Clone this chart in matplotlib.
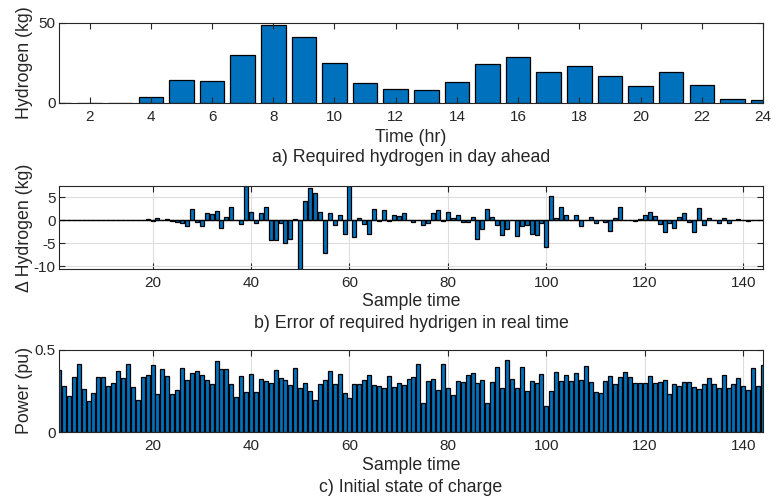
import numpy as np
import matplotlib.pyplot as plt

plt.rcParams['font.family'] = ['Liberation Sans', 'DejaVu Sans']
plt.rcParams['axes.unicode_minus'] = False

# a) required hydrogen in day ahead (kg), hours 1..24
hours = np.arange(1, 25)
h2_day = [0.3, 0.2, 0.2, 3.7, 14.1, 13.5, 30.3, 48.7, 41.3, 25.1, 12.7, 8.9,
          8.3, 13.3, 24.5, 28.9, 19.1, 23.3, 16.6, 10.6, 19.3, 11.4, 2.7, 1.7]

# b) error of required hydrogen in real time (kg), samples 1..144
samples = np.arange(1, 145)
h2_err = [0, 0, 0, 0, 0, 0, 0, 0, 0, 0,
          0, 0, 0, 0, 0, 0, 0, 0.1, 0.2, -0.2,
          0.5, 0, 0.2, -0.2, -0.4, -0.6, -1.2, 2.4, -0.4, -1.3,
          1.6, 1.3, 2.0, -1.7, 0.7, 2.9, 0, -0.9, 7.6, 1.9,
          -0.6, 1.6, 2.9, -4.4, -4.4, -0.7, -5.0, -4.1, 0.2, -10.7,
          4.2, 7.1, 6.0, 1.8, -7.1, 1.7, -1.0, 1.2, -3.0, 7.6,
          -3.7, 0.4, -0.9, -2.9, 2.4, -0.2, 2.2, -0.2, 1.1, 1.0,
          1.6, 0.1, -0.4, 0, -1.1, -0.6, 1.5, 2.2, -0.2, 1.8,
          0.5, 1.1, -0.4, -0.3, 0.8, -4.0, -2.0, 2.4, 0.8, -1.0,
          -3.3, -1.9, 0, -3.5, -1.3, -1.0, -2.9, -3.3, -0.6, -5.9,
          5.4, 0.4, 2.9, 1.2, 0.1, 1.2, -1.2, 0.1, 0.8, -0.6,
          0, -0.4, -2.3, 0.5, 3.0, 0.1, 0, -0.2, 0.2, 1.2,
          1.8, 1.0, -0.9, -2.6, -0.7, -1.7, 0.7, 1.7, -0.3, -2.6,
          2.7, -1.0, 0.4, 0.1, -0.7, 0.6, -0.7, 0, 0.2, 0.1,
          -0.1, 0, 0, 0.1]

# c) initial state of charge (pu), samples 1..144
soc = [0.377, 0.279, 0.217, 0.332, 0.411, 0.261, 0.190, 0.235, 0.332, 0.332,
       0.279, 0.296, 0.372, 0.328, 0.411, 0.271, 0.192, 0.334, 0.348, 0.405,
       0.233, 0.379, 0.342, 0.231, 0.253, 0.387, 0.314, 0.356, 0.368, 0.346,
       0.314, 0.289, 0.431, 0.383, 0.379, 0.291, 0.213, 0.338, 0.243, 0.354,
       0.243, 0.324, 0.310, 0.296, 0.377, 0.326, 0.318, 0.283, 0.385, 0.265,
       0.300, 0.246, 0.194, 0.291, 0.318, 0.370, 0.288, 0.351, 0.235, 0.208,
       0.291, 0.291, 0.314, 0.348, 0.287, 0.278, 0.269, 0.342, 0.270, 0.295,
       0.283, 0.320, 0.334, 0.413, 0.174, 0.312, 0.322, 0.257, 0.415, 0.267,
       0.227, 0.310, 0.306, 0.344, 0.358, 0.300, 0.318, 0.178, 0.302, 0.393,
       0.267, 0.437, 0.324, 0.267, 0.395, 0.248, 0.308, 0.300, 0.350, 0.159,
       0.249, 0.362, 0.308, 0.344, 0.310, 0.360, 0.316, 0.399, 0.302, 0.241,
       0.237, 0.310, 0.340, 0.291, 0.334, 0.364, 0.332, 0.300, 0.298, 0.294,
       0.340, 0.300, 0.304, 0.316, 0.233, 0.291, 0.281, 0.304, 0.302, 0.275,
       0.261, 0.289, 0.330, 0.289, 0.267, 0.344, 0.269, 0.291, 0.330, 0.277,
       0.255, 0.385, 0.279, 0.409]

BLUE = '#0072BD'
AX_COLOR = '#262626'
W, H = 773, 501
LABEL_FS = 12.8
TICK_FS = 11


def style(ax, grid=True):
    for s in ax.spines.values():
        s.set_color(AX_COLOR)
        s.set_linewidth(0.8)
    ax.tick_params(direction='in', top=True, right=True, length=4,
                   width=0.8, color=AX_COLOR, labelcolor=AX_COLOR,
                   labelsize=TICK_FS)
    ax.tick_params(axis='x', pad=5)
    ax.tick_params(axis='y', pad=2.5)
    if grid:
        ax.grid(True, color='#dedede', linewidth=0.8)
        ax.set_axisbelow(True)
    ax.yaxis.set_label_coords(-0.037, 0.5)


def place_xlabel(ax, center_px, bottom_px, height_px):
    ax.xaxis.label.set_va('center')
    ax.xaxis.set_label_coords(0.5, -(center_px - bottom_px) / height_px)


def axes_px(fig, left, top, right, bottom):
    return fig.add_axes([left / W, 1 - bottom / H, (right - left) / W, (bottom - top) / H])


fig = plt.figure(figsize=(W / 100, H / 100), dpi=100)

# panel a
ax1 = axes_px(fig, 59, 23, 763, 103)
ax1.bar(hours, h2_day, width=0.8, color=BLUE, edgecolor='black', linewidth=0.9)
ax1.set_xlim(1, 24)
ax1.set_ylim(0, 50)
ax1.set_xticks(np.arange(2, 25, 2))
ax1.set_yticks([0, 50])
ax1.set_xlabel('Time (hr)', fontsize=LABEL_FS, color=AX_COLOR)
ax1.set_ylabel('Hydrogen (kg)', fontsize=LABEL_FS, color=AX_COLOR)
style(ax1, grid=False)
place_xlabel(ax1, 138, 103, 80)
fig.text(411 / W, 1 - 158 / H, 'a) Required hydrogen in day ahead',
         ha='center', va='center', fontsize=LABEL_FS, color=AX_COLOR)

# panel b
ax2 = axes_px(fig, 59, 186, 763, 269)
ax2.bar(samples, h2_err, width=0.8, color=BLUE, edgecolor='black', linewidth=0.9)
ax2.axhline(0, color='black', linewidth=0.9)
ax2.set_xlim(1, 144)
ax2.set_ylim(-10.65, 7.5)
ax2.set_xticks(np.arange(20, 141, 20))
ax2.set_yticks([-10, -5, 0, 5])
ax2.set_xlabel('Sample time', fontsize=LABEL_FS, color=AX_COLOR)
ax2.set_ylabel('\u0394 Hydrogen (kg)', fontsize=LABEL_FS, color=AX_COLOR)
style(ax2)
place_xlabel(ax2, 302, 269, 83)
fig.text(411 / W, 1 - 323 / H, 'b) Error of required hydrigen in real time',
         ha='center', va='center', fontsize=LABEL_FS, color=AX_COLOR)

# panel c
ax3 = axes_px(fig, 59, 349.5, 763, 432)
ax3.bar(samples, soc, width=0.8, color=BLUE, edgecolor='black', linewidth=0.9)
ax3.set_xlim(1, 144)
ax3.set_ylim(0, 0.5)
ax3.set_xticks(np.arange(20, 141, 20))
ax3.set_yticks([0, 0.5])
ax3.set_yticklabels(['0', '0.5'])
ax3.set_xlabel('Sample time', fontsize=LABEL_FS, color=AX_COLOR)
ax3.set_ylabel('Power (pu)', fontsize=LABEL_FS, color=AX_COLOR)
style(ax3)
place_xlabel(ax3, 465, 432, 82.5)
fig.text(411 / W, 1 - 488 / H, 'c) Initial state of charge',
         ha='center', va='center', fontsize=LABEL_FS, color=AX_COLOR)

fig.savefig('out.png', dpi=100)
